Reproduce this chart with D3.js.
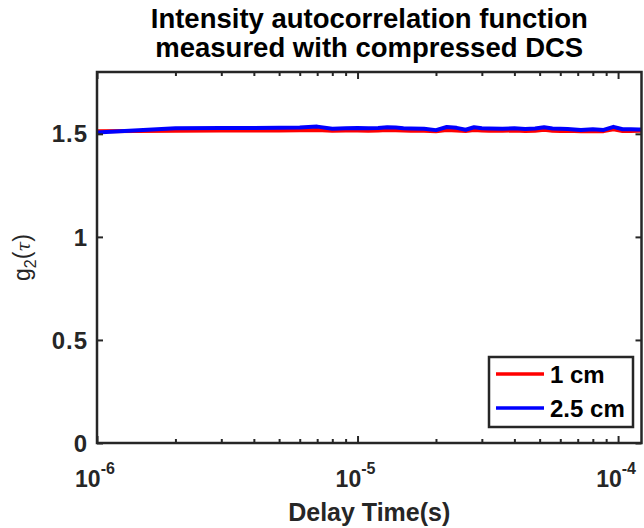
<!DOCTYPE html>
<html>
<head>
<meta charset="utf-8">
<script src="https://cdn.jsdelivr.net/npm/d3@7"></script>
<style>
  body { margin: 0; background: #fff; }
  svg { display: block; font-family: "Liberation Sans", Arial, Helvetica, sans-serif; }
</style>
</head>
<body>
<div id="chart"></div>
<script>
// delay times (microseconds), multi-tau style spacing
const tauUs = [1,2,3,4,5,6,7,8,9,10,11,12,13,14,15,16,
  18,20,22,24,26,28,30,32,36,40,44,48,52,56,60,64,72,80,88,96,104,112,120,128];

const g2_1cm = [1.512,1.515,1.516,1.516,1.516,1.517,1.518,1.515,1.516,1.516,1.515,1.516,1.518,1.517,1.516,1.515,
  1.515,1.513,1.518,1.516,1.514,1.519,1.516,1.515,1.515,1.516,1.514,1.515,1.520,1.515,1.514,1.515,
  1.513,1.514,1.513,1.522,1.514,1.514,1.515,1.515];

const g2_25cm = [1.506,1.527,1.528,1.528,1.529,1.531,1.535,1.525,1.527,1.528,1.527,1.528,1.532,1.531,1.527,1.526,
  1.525,1.518,1.533,1.529,1.520,1.532,1.527,1.526,1.525,1.527,1.524,1.526,1.532,1.526,1.525,1.524,
  1.519,1.522,1.519,1.534,1.522,1.522,1.521,1.521];

const seriesNames = ["1 cm", "2.5 cm"];
const seriesColors = ["#ff0000", "#0000ff"];
const yTicks = [0, 0.5, 1, 1.5];
const xMajor = [1e-6, 1e-5, 1e-4];
const xExponents = ["-6", "-5", "-4"];

const W = 644, H = 528;
const mLeft = 97, mRight = 641.5, mTop = 72, mBottom = 443;
const axisColor = "#262626";

const svg = d3.select("#chart").append("svg")
  .attr("width", W).attr("height", H);

const x = d3.scaleLog().domain([1e-6, 1.23e-4]).range([mLeft, mRight]);
const y = d3.scaleLinear().domain([0, 1.8]).range([mBottom, mTop]);

// minor ticks 2..9 per decade inside the domain
const xMinor = [];
[1e-6, 1e-5, 1e-4].forEach(function(d) {
  for (let k = 2; k <= 9; k++) {
    if (d * k <= x.domain()[1]) xMinor.push(d * k);
  }
});

function styleAxis(g) {
  g.select(".domain").remove();
  g.selectAll("line").attr("stroke", axisColor).attr("stroke-width", 2);
  g.selectAll("text").remove();
}

// data lines (clipped to plot area)
svg.append("clipPath").attr("id", "clip")
  .append("rect")
    .attr("x", mLeft).attr("y", mTop)
    .attr("width", mRight - mLeft).attr("height", mBottom - mTop);

const line = d3.line()
  .x(function(d) { return x(d.t * 1e-6); })
  .y(function(d) { return y(d.v); });

[g2_1cm, g2_25cm].forEach(function(vals, i) {
  const pts = tauUs.map(function(t, j) { return {t: t, v: vals[j]}; });
  svg.append("path")
    .datum(pts)
    .attr("clip-path", "url(#clip)")
    .attr("d", line)
    .attr("fill", "none")
    .attr("stroke", seriesColors[i])
    .attr("stroke-width", 4)
    .attr("stroke-linejoin", "round");
});

// ticks, all pointing inwards
svg.append("g").attr("transform", `translate(0,${mBottom})`)
  .call(d3.axisBottom(x).tickValues(xMajor).tickSize(-7).tickSizeOuter(0)).call(styleAxis);
svg.append("g").attr("transform", `translate(0,${mBottom})`)
  .call(d3.axisBottom(x).tickValues(xMinor).tickSize(-4).tickSizeOuter(0)).call(styleAxis);
svg.append("g").attr("transform", `translate(0,${mTop})`)
  .call(d3.axisTop(x).tickValues(xMajor).tickSize(-7).tickSizeOuter(0)).call(styleAxis);
svg.append("g").attr("transform", `translate(0,${mTop})`)
  .call(d3.axisTop(x).tickValues(xMinor).tickSize(-4).tickSizeOuter(0)).call(styleAxis);
svg.append("g").attr("transform", `translate(${mLeft},0)`)
  .call(d3.axisLeft(y).tickValues(yTicks).tickSize(-6).tickSizeOuter(0)).call(styleAxis);
svg.append("g").attr("transform", `translate(${mRight},0)`)
  .call(d3.axisRight(y).tickValues(yTicks).tickSize(-6).tickSizeOuter(0)).call(styleAxis);

// box
svg.append("rect")
  .attr("x", mLeft).attr("y", mTop)
  .attr("width", mRight - mLeft).attr("height", mBottom - mTop)
  .attr("fill", "none")
  .attr("stroke", axisColor)
  .attr("stroke-width", 2.5);

// y tick labels
svg.selectAll(".ylab")
  .data(yTicks)
  .enter().append("text")
    .attr("x", mLeft - 9)
    .attr("y", function(d) { return y(d); })
    .attr("dy", "0.36em")
    .attr("text-anchor", "end")
    .attr("font-size", 24)
    .attr("letter-spacing", 1)
    .attr("font-weight", "bold")
    .attr("fill", axisColor)
    .text(function(d) { return d; });

// x tick labels 10^n
xMajor.forEach(function(d, i) {
  const t = svg.append("text")
    .attr("x", x(d) - 2)
    .attr("y", mBottom + 44)
    .attr("text-anchor", "middle")
    .attr("font-weight", "bold")
    .attr("fill", axisColor);
  t.append("tspan").attr("font-size", 23).text("10");
  t.append("tspan").attr("font-size", 16).attr("dy", -13).text(xExponents[i]);
});

// axis labels
svg.append("text")
  .attr("x", (mLeft + mRight) / 2)
  .attr("y", 521)
  .attr("text-anchor", "middle")
  .attr("font-size", 25)
  .attr("font-weight", "bold")
  .attr("fill", axisColor)
  .text("Delay Time(s)");

const yl = svg.append("text")
  .attr("transform", `translate(30,${(mTop + mBottom) / 2}) rotate(-90)`)
  .attr("text-anchor", "middle")
  .attr("font-size", 23)
  .attr("fill", axisColor);
yl.append("tspan").text("g");
yl.append("tspan").attr("font-size", 16).attr("dy", 6).text("2");
yl.append("tspan").attr("dy", -6).text("(");
yl.append("tspan").attr("font-style", "italic").attr("font-family", "DejaVu Serif").attr("font-size", 18).text("τ");
yl.append("tspan").text(")");

// title
const titleLines = ["Intensity autocorrelation function", "measured with compressed DCS"];
svg.selectAll(".title")
  .data(titleLines)
  .enter().append("text")
    .attr("x", (mLeft + mRight) / 2)
    .attr("y", function(d, i) { return 28 + i * 29; })
    .attr("text-anchor", "middle")
    .attr("font-size", 27.5)
    .attr("font-weight", "bold")
    .attr("fill", "#000")
    .text(function(d) { return d; });

// legend
const lg = svg.append("g").attr("transform", "translate(489,357)");
lg.append("rect")
  .attr("width", 144).attr("height", 70)
  .attr("fill", "#fff")
  .attr("stroke", axisColor)
  .attr("stroke-width", 2.5);
seriesNames.forEach(function(name, i) {
  const yy = 17 + i * 34;
  lg.append("line")
    .attr("x1", 7).attr("x2", 55)
    .attr("y1", yy).attr("y2", yy)
    .attr("stroke", seriesColors[i])
    .attr("stroke-width", 3.5);
  lg.append("text")
    .attr("x", 61).attr("y", yy)
    .attr("dy", "0.36em")
    .attr("font-size", 24)
    .attr("font-weight", "bold")
    .attr("fill", "#000")
    .text(name);
});
</script>
</body>
</html>
